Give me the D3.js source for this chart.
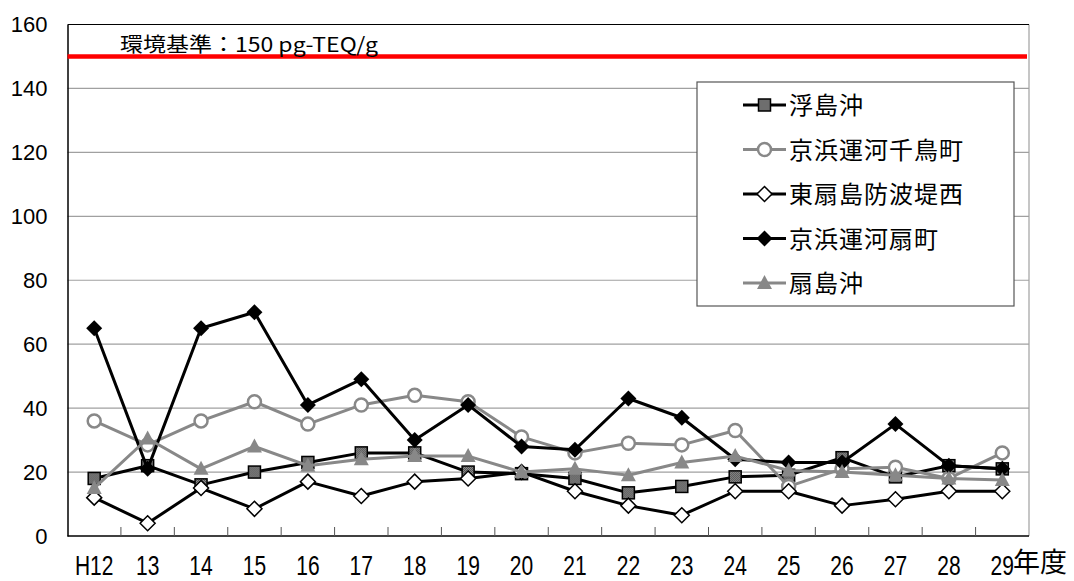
<!DOCTYPE html>
<html>
<head>
<meta charset="utf-8">
<script src="https://cdn.jsdelivr.net/npm/d3@7"></script>
<style>
  body { margin: 0; background: #fff; }
  svg { display: block; }
</style>
</head>
<body>
<div class="chart"></div>
<script>
// years (heisei) along x axis
var years = ["H12", "13", "14", "15", "16", "17", "18", "19", "20", "21", "22", "23", "24", "25", "26", "27", "28", "29"];
var yTicks = [0, 20, 40, 60, 80, 100, 120, 140, 160];

var ukishimaoki   = [18, 22, 16, 20, 23, 26, 26, 20, 19.5, 18, 13.5, 15.5, 18.5, 19, 24.5, 18.5, 22, 21];
var chidoricho    = [36, 28.5, 36, 42, 35, 41, 44, 42, 31, 26, 29, 28.5, 33, 15.5, 21, 21.5, 18, 26];
var higashiOgi    = [12, 4, 15, 8.5, 17, 12.5, 17, 18, 20, 14, 9.5, 6.5, 14, 14, 9.5, 11.5, 14, 14];
var ogicho        = [65, 21, 65, 70, 41, 49, 30, 41, 28, 27, 43, 37, 24, 23, 23, 35, 22, 21];
var ogishimaoki   = [15, 30.5, 21, 28, 22, 24, 25, 25, 20, 21, 19, 23, 25, 20.5, 20, 19, 18, 17.5];

var seriesNames = ["浮島沖", "京浜運河千鳥町", "東扇島防波堤西", "京浜運河扇町", "扇島沖"];
var standardValue = 150;
var standardLabel = "環境基準：150 pg-TEQ/g";

var series = [
    {name: seriesNames[0], values: ukishimaoki, color: "#000", marker: "square"},
    {name: seriesNames[1], values: chidoricho, color: "#888", marker: "circle"},
    {name: seriesNames[2], values: higashiOgi, color: "#000", marker: "diamondOpen"},
    {name: seriesNames[3], values: ogicho, color: "#000", marker: "diamond"},
    {name: seriesNames[4], values: ogishimaoki, color: "#888", marker: "triangle"}
];

var W = 1074, H = 581;
var plotL = 67.5, plotR = 1029, plotT = 24.5, plotB = 536;

var svg = d3.select(".chart").append("svg")
    .attr("width", W).attr("height", H);

// checker pattern for the square markers
var pat = svg.append("defs").append("pattern")
    .attr("id", "checker").attr("width", 2).attr("height", 2)
    .attr("patternUnits", "userSpaceOnUse");
pat.append("rect").attr("width", 2).attr("height", 2).attr("fill", "#999");
pat.append("rect").attr("width", 1).attr("height", 1).attr("fill", "#444");
pat.append("rect").attr("x", 1).attr("y", 1).attr("width", 1).attr("height", 1).attr("fill", "#444");

var x = d3.scaleBand().domain(years).range([plotL, plotR]).padding(0);
var y = d3.scaleLinear().domain([0, 160]).range([plotB, plotT]);

// gridlines
svg.append("g").selectAll("line")
    .data(yTicks.filter(function (d) { return d > 0 && d < 160; }))
    .enter().append("line")
    .attr("x1", plotL).attr("x2", plotR)
    .attr("y1", function (d) { return y(d); })
    .attr("y2", function (d) { return y(d); })
    .attr("stroke", "#a0a0a0").attr("stroke-width", 1.2);

// plot border
svg.append("line").attr("x1", plotR).attr("x2", plotR).attr("y1", plotT).attr("y2", plotB)
    .attr("stroke", "#a0a0a0").attr("stroke-width", 1.2);
svg.append("line").attr("x1", plotL).attr("x2", plotR).attr("y1", plotT).attr("y2", plotT)
    .attr("stroke", "#000").attr("stroke-width", 1.2);

// y axis
var yAxis = svg.append("g")
    .attr("transform", "translate(" + plotL + ",0)")
    .call(d3.axisLeft(y).tickValues(yTicks).tickSize(0).tickPadding(20));
yAxis.select(".domain").attr("stroke", "#000").attr("stroke-width", 1.5);
yAxis.selectAll("text")
    .attr("font-family", "'Liberation Sans', Arial, sans-serif")
    .attr("font-size", 22).attr("fill", "#000");

// x axis: boundary ticks pointing up
var xAxis = svg.append("g").attr("transform", "translate(0," + plotB + ")");
xAxis.append("line").attr("x1", plotL).attr("x2", plotR)
    .attr("stroke", "#000").attr("stroke-width", 1.5);
xAxis.selectAll(".tk").data(years.slice(1)).enter().append("line")
    .attr("class", "tk")
    .attr("x1", function (d) { return x(d); })
    .attr("x2", function (d) { return x(d); })
    .attr("y1", 0).attr("y2", -9)
    .attr("stroke", "#555").attr("stroke-width", 1);
xAxis.selectAll(".lbl").data(years).enter().append("text")
    .attr("class", "lbl")
    .attr("transform", function (d) {
        return "translate(" + (x(d) + x.bandwidth() / 2) + ",39) scale(0.84,1.1)";
    })
    .attr("text-anchor", "middle")
    .attr("font-family", "'Liberation Sans', Arial, sans-serif")
    .attr("font-size", 25)
    .text(function (d) { return d; });
svg.append("text")
    .attr("x", 1013).attr("y", 572)
    .attr("font-family", "'Noto Sans CJK JP', sans-serif")
    .attr("font-size", 27)
    .text("年度");

// environmental standard
svg.append("line")
    .attr("x1", plotL).attr("x2", plotR - 2)
    .attr("y1", y(standardValue)).attr("y2", y(standardValue))
    .attr("stroke", "#ff0000").attr("stroke-width", 4.5);
svg.append("text")
    .attr("x", 120).attr("y", 52)
    .attr("font-family", "'Noto Sans CJK JP', sans-serif")
    .attr("font-size", 20)
    .attr("textLength", 258).attr("lengthAdjust", "spacingAndGlyphs")
    .text(standardLabel);

// marker drawing
function drawMarker(g, type, color) {
    if (type === "square") {
        g.append("rect").attr("x", -6).attr("y", -6).attr("width", 12).attr("height", 12)
            .attr("fill", "url(#checker)").attr("stroke", "#000").attr("stroke-width", 1.5);
    } else if (type === "circle") {
        g.append("circle").attr("r", 6.5).attr("fill", "#fff")
            .attr("stroke", color).attr("stroke-width", 2.5);
    } else if (type === "diamondOpen") {
        g.append("path").attr("d", "M0,-7.5L7.5,0L0,7.5L-7.5,0Z")
            .attr("fill", "#fff").attr("stroke", "#000").attr("stroke-width", 1.5);
    } else if (type === "diamond") {
        g.append("path").attr("d", "M0,-8L8,0L0,8L-8,0Z").attr("fill", "#000");
    } else if (type === "triangle") {
        g.append("path").attr("d", "M0,-8L7.5,6L-7.5,6Z").attr("fill", color);
    }
}

var line = d3.line()
    .x(function (d, i) { return x(years[i]) + x.bandwidth() / 2; })
    .y(function (d) { return y(d); });

series.forEach(function (s) {
    var g = svg.append("g");
    g.append("path").datum(s.values)
        .attr("d", line)
        .attr("fill", "none")
        .attr("stroke", s.color)
        .attr("stroke-width", 3)
        .attr("stroke-linejoin", "round");
    g.selectAll(".m").data(s.values).enter().append("g")
        .attr("class", "m")
        .attr("transform", function (d, i) {
            return "translate(" + (x(years[i]) + x.bandwidth() / 2) + "," + y(d) + ")";
        })
        .each(function () { drawMarker(d3.select(this), s.marker, s.color); });
});

// legend
var lg = svg.append("g");
lg.append("rect").attr("x", 697).attr("y", 82).attr("width", 317).attr("height", 224)
    .attr("fill", "#fff").attr("stroke", "#555").attr("stroke-width", 1.2);
series.forEach(function (s, i) {
    var cy = 105 + i * 44.5;
    lg.append("line").attr("x1", 743).attr("x2", 786).attr("y1", cy).attr("y2", cy)
        .attr("stroke", s.color).attr("stroke-width", 3);
    drawMarker(lg.append("g").attr("transform", "translate(764.5," + cy + ")"), s.marker, s.color);
    lg.append("text").attr("x", 789).attr("y", cy + 9)
        .attr("font-family", "'Noto Sans CJK JP', sans-serif")
        .attr("font-size", 24).attr("letter-spacing", 1)
        .text(s.name);
});
</script>
</body>
</html>
